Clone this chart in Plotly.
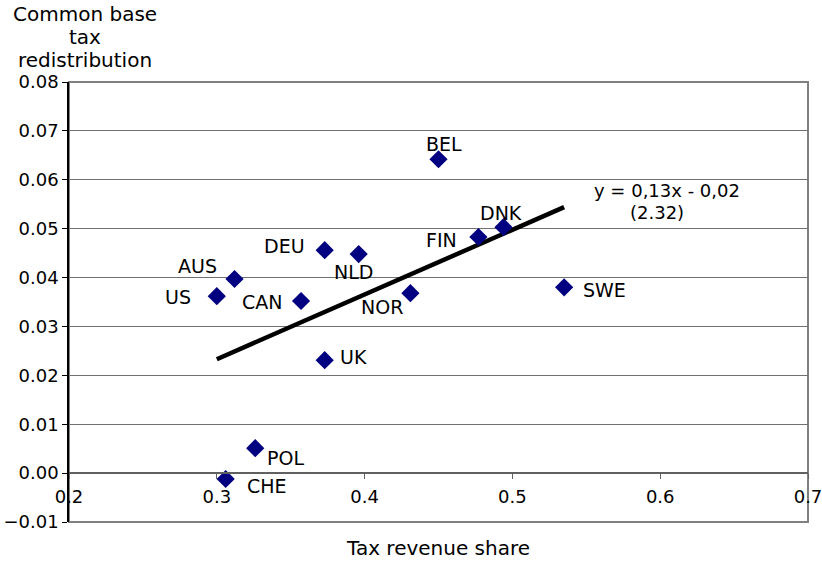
import plotly.graph_objects as go

COUNTRIES = ["BEL", "DNK", "FIN", "SWE", "DEU", "NLD", "AUS", "US", "CAN", "NOR", "UK", "POL", "CHE"]
TAX_SHARE = [0.450, 0.494, 0.477, 0.535, 0.373, 0.396, 0.312, 0.300, 0.357, 0.431, 0.373, 0.326, 0.306]
REDISTRIBUTION = [0.0642, 0.0503, 0.0483, 0.0380, 0.0456, 0.0448, 0.0397, 0.0362, 0.0352, 0.0368, 0.0231, 0.0051, -0.0012]

TREND_X = [0.300, 0.535]
TREND_Y = [0.0233, 0.0544]

X_TICKS = [0.2, 0.3, 0.4, 0.5, 0.6, 0.7]
X_TICK_LABELS = ["0.2", "0.3", "0.4", "0.5", "0.6", "0.7"]
Y_TICKS = [-0.01, 0.0, 0.01, 0.02, 0.03, 0.04, 0.05, 0.06, 0.07, 0.08]

EQUATION = "y = 0,13x - 0,02"
T_STAT = "(2.32)"
Y_TITLE_LINES = ["Common base", "tax", "redistribution"]
X_TITLE = "Tax revenue share"

# label offsets in pixels (dx right, dy down)
LABEL_OFFSETS = {
    "BEL": (5, -15), "DNK": (-3, -14), "FIN": (-37, 3), "SWE": (40, 3),
    "DEU": (-40, -4), "NLD": (-5, 18), "AUS": (-37, -13), "US": (-39, 1),
    "CAN": (-39, 1), "NOR": (-28, 14), "UK": (29, -3), "POL": (30, 10), "CHE": (41, 7),
}

FONT = "DejaVu Sans, Liberation Sans, Arial, sans-serif"
X_RANGE = [0.2, 0.7]
Y_RANGE = [-0.01, 0.08]

W, H = 822, 561
ML, MR, MT, MB = 69, 14, 82, 39
PW, PH = W - ML - MR, H - MT - MB


def px_to_paper(xp, yp):
    return (xp - ML) / PW, (H - MB - yp) / PH


fig = go.Figure()

fig.add_trace(go.Scatter(
    x=TREND_X, y=TREND_Y, mode="lines",
    line=dict(color="black", width=4.5), hoverinfo="skip", showlegend=False,
))
fig.add_trace(go.Scatter(
    x=TAX_SHARE, y=REDISTRIBUTION, mode="markers",
    marker=dict(symbol="diamond", size=14, color="#000080", line=dict(width=0)),
    text=COUNTRIES, showlegend=False,
))

annotations = []
for c, xv, yv in zip(COUNTRIES, TAX_SHARE, REDISTRIBUTION):
    dx, dy = LABEL_OFFSETS[c]
    annotations.append(dict(
        x=xv, y=yv, xref="x", yref="y", text=c, showarrow=False,
        xanchor="center", yanchor="middle",
        xshift=dx, yshift=-dy, font=dict(family=FONT, size=19, color="black"),
    ))

annotations.append(dict(x=0.6046, y=0.0579, xref="x", yref="y", text=EQUATION,
                        xanchor="center", yanchor="middle",
                        showarrow=False, font=dict(family=FONT, size=18, color="black")))
annotations.append(dict(x=0.5978, y=0.0534, xref="x", yref="y", text=T_STAT,
                        xanchor="center", yanchor="middle",
                        showarrow=False, font=dict(family=FONT, size=18, color="black")))

for line_text, ypix in zip(Y_TITLE_LINES, [14, 37, 60]):
    xp, yp = px_to_paper(85, ypix)
    annotations.append(dict(
        x=xp, y=yp, xref="paper", yref="paper", text=line_text, showarrow=False,
        xanchor="center", yanchor="middle",
        font=dict(family=FONT, size=20, color="black"),
    ))

xp, yp = px_to_paper(438, 548)
annotations.append(dict(
    x=xp, y=yp, xref="paper", yref="paper", text=X_TITLE, showarrow=False,
    xanchor="center", yanchor="middle",
    font=dict(family=FONT, size=20, color="black"),
))

fig.update_layout(
    width=W, height=H,
    margin=dict(l=ML, r=MR, t=MT, b=MB, pad=0, autoexpand=False),
    paper_bgcolor="white", plot_bgcolor="white",
    showlegend=False,
    annotations=annotations,
    xaxis=dict(
        range=X_RANGE, tickvals=X_TICKS, ticktext=X_TICK_LABELS,
        showgrid=False, zeroline=False, automargin=False,
        showline=True, linecolor="#606060", linewidth=1.5,
        ticks="outside", ticklen=5, tickcolor="#606060",
        ticklabeloverflow="allow", ticklabelstandoff=3,
        anchor="free", position=(0 - Y_RANGE[0]) / (Y_RANGE[1] - Y_RANGE[0]),
        tickfont=dict(family=FONT, size=18, color="black"),
    ),
    yaxis=dict(
        range=Y_RANGE, tickvals=Y_TICKS, tickformat=".2f",
        showgrid=True, gridcolor="#707070", gridwidth=1, zeroline=False,
        automargin=False,
        showline=True, linecolor="black", linewidth=1.5,
        ticks="outside", ticklen=5, tickcolor="black",
        tickfont=dict(family=FONT, size=18, color="black"),
    ),
    shapes=[dict(type="rect", xref="paper", yref="paper", x0=0, y0=0, x1=1, y1=1,
                 line=dict(color="#808080", width=2), layer="below")],
)

fig.write_html(
    "out.html",
    config={"displayModeBar": False},
    post_script="document.body.style.margin='0';document.body.style.padding='0';",
)
